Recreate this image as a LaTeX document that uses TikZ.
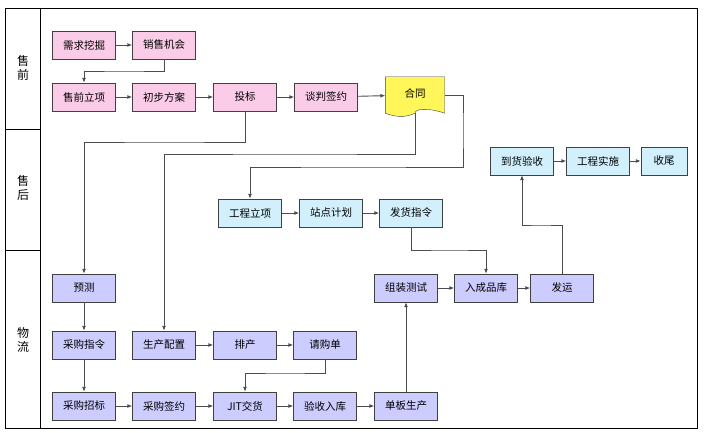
\documentclass[tikz,border=0pt]{standalone}
\usepackage{fontspec}
\setmainfont{Noto Sans CJK SC}
\usetikzlibrary{arrows.meta}
\begin{document}
\begin{tikzpicture}[x=1pt,y=-1pt,
  font=\fontsize{10.5}{12}\selectfont,
  box/.style={draw=black!75,minimum width=63pt,minimum height=28pt,inner sep=1pt},
  pre/.style={box,fill=magenta!20},
  post/.style={box,fill=cyan!18},
  logi/.style={box,fill=blue!20},
  flow/.style={draw=black!70,line width=0.9pt,-{Latex[length=5pt,width=4pt]}},
  lane/.style={font=\fontsize{12}{14}\selectfont,align=center}]
\useasboundingbox (0,0) rectangle (704,433);
% swimlanes
\draw[line width=0.9pt] (5,8) rectangle (697,428);
\draw[line width=0.9pt] (40,8) -- (40,428);
\draw[line width=0.9pt] (5,129) -- (40,129) (5,250) -- (40,250);
\node[lane] (l1) at (23,68) {售\\前};
\node[lane] (l2) at (23,188) {售\\后};
\node[lane] (l3) at (23,340) {物\\流};
% pre-sales
\node[pre] (xq) at (84,45) {需求挖掘};
\node[pre] (xs) at (164,45) {销售机会};
\node[pre] (lx) at (84,97) {售前立项};
\node[pre] (fa) at (164,97) {初步方案};
\node[pre] (tb) at (245,97) {投标};
\node[pre] (tp) at (326,97) {谈判签约};
\node[minimum width=59pt,minimum height=36pt] (ht) at (415,95) {};
\fill[yellow!65!white,draw=black!75]
  (ht.north west) -- (ht.north east) -- (ht.south east)
  .. controls (430,108) and (415,108) .. (ht.south)
  .. controls (405,118) and (395,117) .. (ht.south west) -- cycle;
\node at (415,94) {合同};
% after-sales
\node[post] (gc) at (250,213) {工程立项};
\node[post] (zd) at (331,213) {站点计划};
\node[post] (fh) at (411,213) {发货指令};
\node[post] (dh) at (522,161) {到货验收};
\node[post] (ss) at (598,161) {工程实施};
\node[post,minimum width=46pt] (sw) at (664,161) {收尾};
% logistics
\node[logi] (yc) at (84,288) {预测};
\node[logi] (cz) at (84,345) {采购指令};
\node[logi] (cb) at (84,406) {采购招标};
\node[logi] (pz) at (164,345) {生产配置};
\node[logi] (pc) at (245,345) {排产};
\node[logi] (qg) at (325,345) {请购单};
\node[logi] (cy) at (164,406) {采购签约};
\node[logi] (jit) at (245,406) {JIT交货};
\node[logi] (ys) at (325,406) {验收入库};
\node[logi] (db) at (406,406) {单板生产};
\node[logi] (zz) at (406,288) {组装测试};
\node[logi] (rk) at (486,288) {入成品库};
\node[logi] (fy) at (562,288) {发运};
% flows
\draw[flow] (xq) -- (xs);
\draw[flow] (xs.south) |- (124,71) -| (lx.north);
\draw[flow] (lx) -- (fa);
\draw[flow] (fa) -- (tb);
\draw[flow] (tb) -- (tp);
\draw[flow] (tp) -- (ht);
\draw[flow] (tb.south) |- (164,142) -| (yc.north);
\draw[flow] (ht.south) |- (300,154) -| (pz.north);
\draw[flow] (ht.east) -| (463,130) |- (350,167) -| (gc.north);
\draw[flow] (gc) -- (zd);
\draw[flow] (zd) -- (fh);
\draw[flow] (fh.south) |- (450,250) -| (rk.north);
\draw[flow] (fy.north) |- (540,225) -| (dh.south);
\draw[flow] (dh) -- (ss);
\draw[flow] (ss) -- (sw);
\draw[flow] (yc) -- (cz);
\draw[flow] (cz) -- (cb);
\draw[flow] (cb) -- (cy);
\draw[flow] (cy) -- (jit);
\draw[flow] (jit) -- (ys);
\draw[flow] (ys) -- (db);
\draw[flow] (pz) -- (pc);
\draw[flow] (pc) -- (qg);
\draw[flow] (qg.south) |- (285,373) -| (jit.north);
\draw[flow] (db) -- (zz);
\draw[flow] (zz) -- (rk);
\draw[flow] (rk) -- (fy);
\end{tikzpicture}
\end{document}
